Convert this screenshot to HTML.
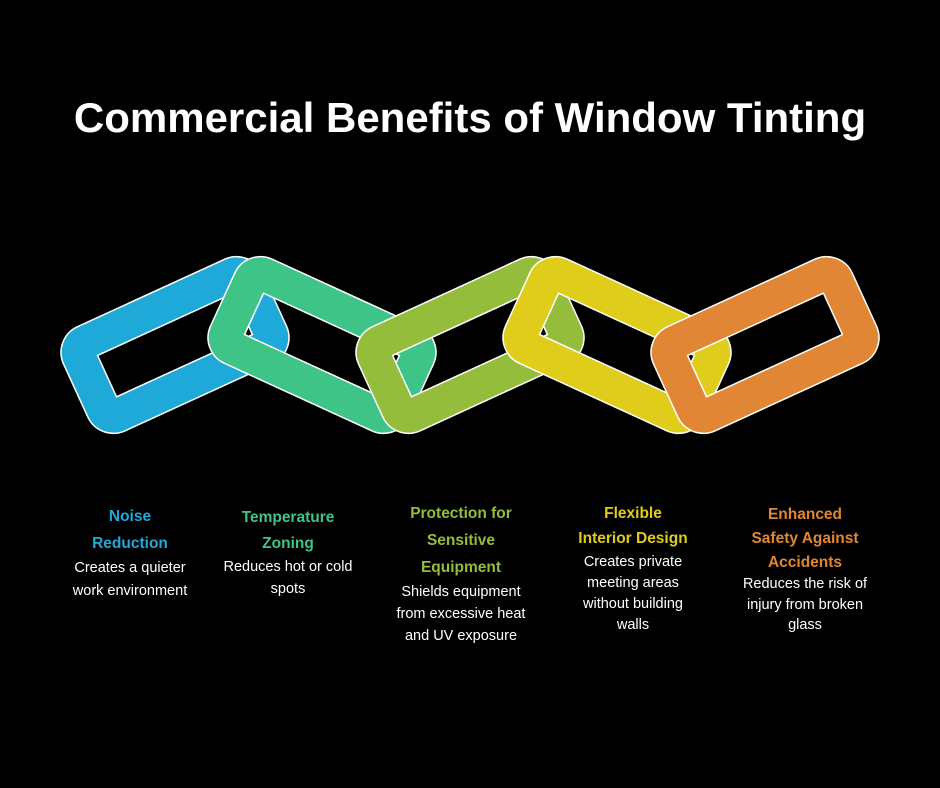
<!DOCTYPE html>
<html><head><meta charset="utf-8"><style>
body{margin:0;background:#000;width:940px;height:788px;overflow:hidden;position:relative;font-family:"Liberation Sans",sans-serif}
.t{position:absolute;left:0;width:940px;text-align:center;top:94px;color:#fff;font-weight:bold;font-size:42px}
.l{position:absolute;width:200px;text-align:center;white-space:nowrap;transform:translateY(-50%)}
.h{font-weight:bold;font-size:15.5px}
.d{color:#fff;font-size:14.5px}
</style></head><body>
<div class="t">Commercial Benefits of Window Tinting</div>
<svg width="940" height="788" style="position:absolute;left:0;top:0">
<defs>
<g id="lk"><rect x="-92" y="-40" width="184" height="80" rx="11" fill="none" stroke="#fff" stroke-width="36"/><rect x="-92" y="-40" width="184" height="80" rx="11" fill="none" stroke="currentColor" stroke-width="33"/></g>
</defs>
<use href="#lk" color="#1fa9d9" transform="translate(175,345) rotate(-24.6)"/>
<use href="#lk" color="#3ec486" transform="translate(322,345) rotate(24.6)"/>
<use href="#lk" color="#93bd3b" transform="translate(470,345) rotate(-24.6)"/>
<use href="#lk" color="#e0cc1a" transform="translate(617,345) rotate(24.6)"/>
<use href="#lk" color="#e08634" transform="translate(765,345) rotate(-24.6)"/>
</svg>
<div class="l h" style="left:30px;top:517px;color:#1fa9d9">Noise</div>
<div class="l h" style="left:30px;top:544px;color:#1fa9d9">Reduction</div>
<div class="l d" style="left:30px;top:568px">Creates a quieter</div>
<div class="l d" style="left:30px;top:591px">work environment</div>

<div class="l h" style="left:188px;top:518px;color:#3ec486">Temperature</div>
<div class="l h" style="left:188px;top:544px;color:#3ec486">Zoning</div>
<div class="l d" style="left:188px;top:567px">Reduces hot or cold</div>
<div class="l d" style="left:188px;top:589px">spots</div>

<div class="l h" style="left:361px;top:514px;color:#93bd3b">Protection for</div>
<div class="l h" style="left:361px;top:541px;color:#93bd3b">Sensitive</div>
<div class="l h" style="left:361px;top:568px;color:#93bd3b">Equipment</div>
<div class="l d" style="left:361px;top:592px">Shields equipment</div>
<div class="l d" style="left:361px;top:614px">from excessive heat</div>
<div class="l d" style="left:361px;top:636px">and UV exposure</div>

<div class="l h" style="left:533px;top:514px;color:#e0cc1a">Flexible</div>
<div class="l h" style="left:533px;top:539px;color:#e0cc1a">Interior Design</div>
<div class="l d" style="left:533px;top:562px">Creates private</div>
<div class="l d" style="left:533px;top:583px">meeting areas</div>
<div class="l d" style="left:533px;top:604px">without building</div>
<div class="l d" style="left:533px;top:625px">walls</div>

<div class="l h" style="left:705px;top:515px;color:#e08634">Enhanced</div>
<div class="l h" style="left:705px;top:539px;color:#e08634">Safety Against</div>
<div class="l h" style="left:705px;top:563px;color:#e08634">Accidents</div>
<div class="l d" style="left:705px;top:584px">Reduces the risk of</div>
<div class="l d" style="left:705px;top:605px">injury from broken</div>
<div class="l d" style="left:705px;top:625px">glass</div>
</body></html>
